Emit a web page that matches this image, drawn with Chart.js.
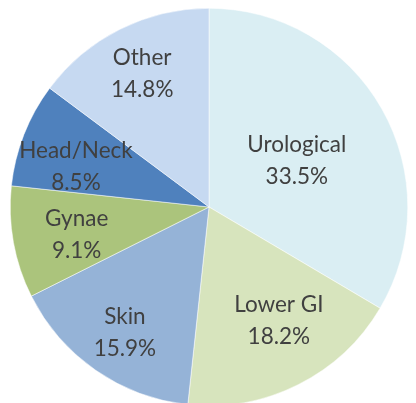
<!DOCTYPE html>
<html>
<head>
<meta charset="utf-8">
<script src="https://cdn.jsdelivr.net/npm/chart.js@4"></script>
<style>
  html, body { margin: 0; padding: 0; background: #fff; overflow: hidden; }
  #wrap { position: relative; width: 416px; height: 406px; }
</style>
</head>
<body>
<div id="wrap"><canvas id="pie"></canvas></div>
<script>
const categories = ["Urological", "Lower GI", "Skin", "Gynae", "Head/Neck", "Other"];
const shares = [33.5, 18.2, 15.9, 9.1, 8.5, 14.8];
const colors = ["#DAEEF3", "#D7E4BD", "#95B3D7", "#ABC47C", "#4F81BD", "#C6D9F1"];

// label placement, Excel "best fit" style: fraction of radius + small angle nudge (deg)
const labelDepth = [0.5, 0.67, 0.76, 0.68, 0.7, 0.75];
const labelNudge = [1.8, -5, -0.9, -1.5, -4.4, 0];

const sliceLabels = {
    id: "sliceLabels",
    afterDatasetsDraw(chart) {
        const ctx = chart.ctx;
        const meta = chart.getDatasetMeta(0);
        ctx.save();
        ctx.font = "22.5px Lato, 'Open Sans', sans-serif";
        ctx.fillStyle = "#404040";
        ctx.textAlign = "center";
        ctx.textBaseline = "middle";
        meta.data.forEach((arc, i) => {
            const p = arc.getProps(["x", "y", "startAngle", "endAngle", "outerRadius"], true);
            const mid = (p.startAngle + p.endAngle) / 2 + labelNudge[i] * Math.PI / 180;
            const r = p.outerRadius * labelDepth[i];
            const x = p.x + Math.cos(mid) * r;
            const y = p.y + Math.sin(mid) * r;
            ctx.fillText(categories[i], x, y - 16);
            ctx.fillText(shares[i].toFixed(1) + "%", x, y + 16);
        });
        ctx.restore();
    },
};

new Chart(document.getElementById("pie"), {
    type: "pie",
    data: {
        labels: categories,
        datasets: [
            {
                data: shares,
                backgroundColor: colors,
                borderColor: "#ffffff",
                borderWidth: 0.5,
            },
        ],
    },
    options: {
        responsive: true,
        maintainAspectRatio: false,
        animation: false,
        layout: { padding: { top: 8, bottom: 0, left: 10, right: 8 } },
        plugins: {
            legend: { display: false },
            tooltip: { enabled: false },
        },
    },
    plugins: [sliceLabels],
});
</script>
</body>
</html>
